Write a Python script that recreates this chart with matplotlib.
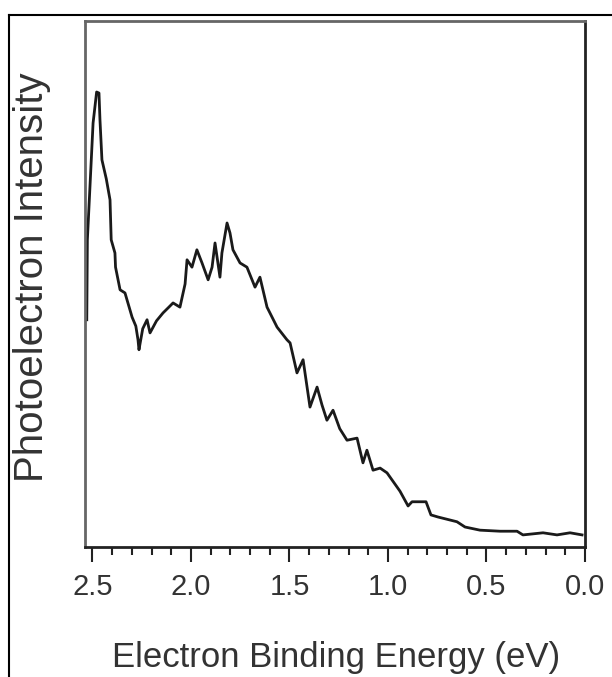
import numpy as np
import matplotlib.pyplot as plt
from matplotlib.lines import Line2D
from matplotlib.ticker import MultipleLocator

plt.rcParams['font.family'] = ['Liberation Sans', 'DejaVu Sans']

# binding energy (eV) and photoelectron intensity (arb. units)
energy = [2.529, 2.526, 2.497, 2.479, 2.467, 2.462, 2.452, 2.430, 2.411, 2.405,
          2.386, 2.383, 2.360, 2.335, 2.299, 2.280, 2.269, 2.264, 2.245, 2.223,
          2.208, 2.175, 2.142, 2.115, 2.091, 2.056, 2.030, 2.020, 1.995, 1.970,
          1.944, 1.913, 1.893, 1.878, 1.853, 1.843, 1.817, 1.802, 1.787, 1.751,
          1.716, 1.675, 1.650, 1.614, 1.563, 1.513, 1.497, 1.462, 1.431, 1.396,
          1.360, 1.335, 1.310, 1.279, 1.245, 1.208, 1.157, 1.127, 1.107, 1.076,
          1.040, 1.005, 0.954, 0.939, 0.898, 0.878, 0.807, 0.782, 0.746, 0.650,
          0.609, 0.533, 0.431, 0.345, 0.315, 0.213, 0.142, 0.076, 0.015]
intensity = [43.2, 58.4, 80.6, 86.5, 86.3, 81.2, 73.6, 70.0, 66.0, 58.4,
             55.9, 53.2, 48.9, 48.3, 43.7, 42.0, 39.4, 37.5, 41.5, 43.2,
             40.7, 43.0, 44.5, 45.5, 46.4, 45.6, 50.0, 54.6, 53.2, 56.5,
             54.0, 50.8, 53.2, 57.8, 51.3, 55.9, 61.6, 59.7, 56.5, 54.0,
             53.2, 49.4, 51.3, 45.6, 41.8, 39.4, 38.8, 33.1, 35.6, 26.6,
             30.4, 27.0, 24.1, 26.0, 22.5, 20.3, 20.7, 16.0, 18.4, 14.6,
             15.0, 14.1, 11.4, 10.6, 7.8, 8.6, 8.6, 6.1, 5.7, 4.8,
             3.8, 3.2, 3.0, 3.0, 2.3, 2.7, 2.3, 2.7, 2.3]

fig = plt.figure(figsize=(6.12, 6.77), dpi=100)
ax = fig.add_axes([85/612, 1-547/677, 500/612, 526/677])

ax.plot(energy, intensity, color='#1a1a1a', lw=2.0)

ax.set_xlim(2.538, 0.0)
ax.set_ylim(0, 100)
ax.set_yticks([])
ax.xaxis.set_major_locator(MultipleLocator(0.5))
ax.xaxis.set_minor_locator(MultipleLocator(0.1))
ax.tick_params(axis='x', which='major', length=11, width=1.5, color='#222222',
               labelsize=21, labelcolor='#333333', pad=8)
ax.tick_params(axis='x', which='minor', length=6, width=1.5, color='#222222')

for side in ['left', 'top']:
    ax.spines[side].set_color('#666666')
    ax.spines[side].set_linewidth(2)
for side in ['right', 'bottom']:
    ax.spines[side].set_color('#222222')
    ax.spines[side].set_linewidth(2)

ax.set_xlabel('Electron Binding Energy (eV)', fontsize=25, color='#333333')
ax.xaxis.set_label_coords(0.502, -0.179)
ax.set_ylabel('Photoelectron Intensity', fontsize=29, color='#333333')
ax.yaxis.set_label_coords(-0.068, 0.513)

# outer frame of the picture
fig.add_artist(Line2D([8.5/612, 8.5/612], [0, 1-15/677], color='black', lw=1.5,
                      transform=fig.transFigure))
fig.add_artist(Line2D([8.5/612, 1], [1-15/677, 1-15/677], color='black', lw=1.5,
                      transform=fig.transFigure))

fig.savefig('out.png', dpi=100)
